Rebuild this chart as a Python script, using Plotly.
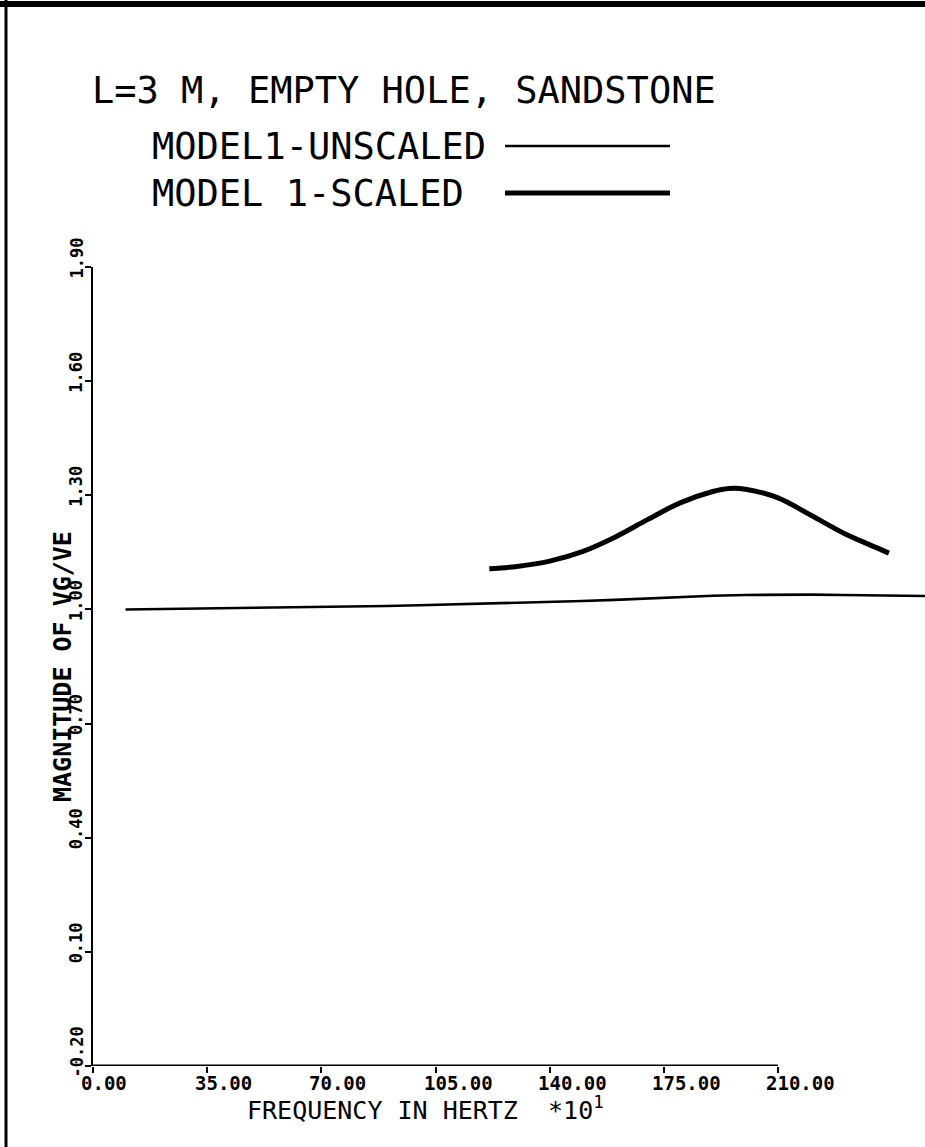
import plotly.graph_objects as go

# ---- data -------------------------------------------------------------
freq_unscaled = [10, 20, 30, 40, 50, 60, 70, 80, 90, 100, 110, 120, 130, 140,
                 150, 160, 170, 180, 190, 200, 210, 220, 230, 240, 250, 256]
mag_unscaled = [1.000, 1.001, 1.002, 1.003, 1.004, 1.005, 1.007, 1.008, 1.009,
                1.011, 1.013, 1.015, 1.017, 1.019, 1.022, 1.025, 1.029, 1.033,
                1.036, 1.038, 1.039, 1.039, 1.038, 1.037, 1.036, 1.035]

freq_scaled = [121.5, 130, 140, 150, 160, 170, 180, 190, 195, 200, 210, 220,
               230, 240, 244]
mag_scaled = [1.107, 1.113, 1.127, 1.152, 1.190, 1.236, 1.280, 1.310, 1.318,
              1.316, 1.293, 1.248, 1.201, 1.163, 1.148]

x_ticks = [0, 35, 70, 105, 140, 175, 210]
x_tick_labels = ["0.00", "35.00", "70.00", "105.00", "140.00", "175.00", "210.00"]
y_ticks = [-0.20, 0.10, 0.40, 0.70, 1.00, 1.30, 1.60, 1.90]
y_tick_labels = ["-0.20", "0.10", "0.40", "0.70", "1.00", "1.30", "1.60", "1.90"]

title_text = "L=3 M, EMPTY HOLE, SANDSTONE"
series_names = ["MODEL1-UNSCALED", "MODEL 1-SCALED"]
x_title = "FREQUENCY IN HERTZ  *10<sup>1</sup>"
y_title = "MAGNITUDE OF VG/VE"

# ---- page geometry ----------------------------------------------------
W, H = 925, 1147
ML, MR, MT, MB = 93, 0, 267, 81
PW, PH = W - ML - MR, H - MT - MB
X_MAX = 210 * PW / 685.0   # axis drawn 0..210, data continues to the page edge

FONT = "DejaVu Sans Mono"
INK = "#000000"


def px(x):
    return (x - ML) / PW


def py(y):
    return (H - MB - y) / PH


fig = go.Figure()
fig.add_trace(go.Scatter(x=freq_unscaled, y=mag_unscaled, mode="lines",
                         line=dict(color=INK, width=2.6), name=series_names[0],
                         showlegend=False))
fig.add_trace(go.Scatter(x=freq_scaled, y=mag_scaled, mode="lines",
                         line=dict(color=INK, width=5, shape="spline"),
                         name=series_names[1], showlegend=False))

ann = []
shapes = []

# title and hand-made legend (label followed by a line sample)
ann.append(dict(text=title_text, x=px(90), y=py(90), xref="paper", yref="paper",
                xanchor="left", yanchor="middle", showarrow=False,
                font=dict(family=FONT, size=37, color=INK)))
for name, ypos, lw in [(series_names[0], 146, 2.6), (series_names[1], 193, 5)]:
    ann.append(dict(text=name, x=px(150), y=py(ypos), xref="paper", yref="paper",
                    xanchor="left", yanchor="middle", showarrow=False,
                    font=dict(family=FONT, size=37, color=INK)))
    shapes.append(dict(type="line", xref="paper", yref="paper",
                       x0=px(505), x1=px(670), y0=py(ypos), y1=py(ypos),
                       line=dict(color=INK, width=lw)))

# tick labels, written from just before each tick as a pen plotter does
for v, t in zip(x_ticks, x_tick_labels):
    ann.append(dict(text=t, x=v, y=0, xref="x", yref="paper", xanchor="left",
                    yanchor="top", xshift=-14, yshift=-4, showarrow=False,
                    font=dict(family=FONT, size=19, color=INK, weight="bold")))
for v, t in zip(y_ticks, y_tick_labels):
    ann.append(dict(text=t, x=0, y=v, xref="paper", yref="y", xanchor="right",
                    yanchor="bottom", xshift=-5, yshift=-14, textangle=-90,
                    showarrow=False,
                    font=dict(family=FONT, size=17, color=INK, weight="bold")))

# axis titles
ann.append(dict(text=x_title, x=px(425), y=py(1108), xref="paper", yref="paper",
                xanchor="center", yanchor="middle", showarrow=False,
                font=dict(family=FONT, size=25, color=INK)))
ann.append(dict(text=y_title, x=px(62), y=py(667), xref="paper", yref="paper",
                xanchor="center", yanchor="middle", textangle=-90, showarrow=False,
                font=dict(family=FONT, size=25, color=INK, weight="bold")))

# x axis line only spans the labelled range
shapes.append(dict(type="line", xref="x", yref="y", x0=x_ticks[0], x1=x_ticks[-1],
                   y0=y_ticks[0], y1=y_ticks[0], line=dict(color=INK, width=3)))

# page frame: heavy top rule and left edge
shapes.append(dict(type="line", xref="paper", yref="paper", x0=px(0), x1=px(W),
                   y0=py(4), y1=py(4), line=dict(color=INK, width=6)))
shapes.append(dict(type="line", xref="paper", yref="paper", x0=px(6), x1=px(6),
                   y0=py(0), y1=py(H), line=dict(color=INK, width=3)))

fig.update_layout(
    width=W, height=H,
    margin=dict(l=ML, r=MR, t=MT, b=MB, pad=0),
    paper_bgcolor="white", plot_bgcolor="white",
    showlegend=False,
    annotations=ann, shapes=shapes,
    xaxis=dict(range=[0, X_MAX], tickvals=x_ticks, showticklabels=False,
               ticks="outside", ticklen=6, tickwidth=2, tickcolor=INK,
               showgrid=False, zeroline=False, showline=False),
    yaxis=dict(range=[y_ticks[0], y_ticks[-1]], tickvals=y_ticks,
               showticklabels=False, ticks="outside", ticklen=6, tickwidth=2,
               tickcolor=INK, showgrid=False, zeroline=False, showline=True,
               linecolor=INK, linewidth=2),
)

fig.write_html("out.html")
